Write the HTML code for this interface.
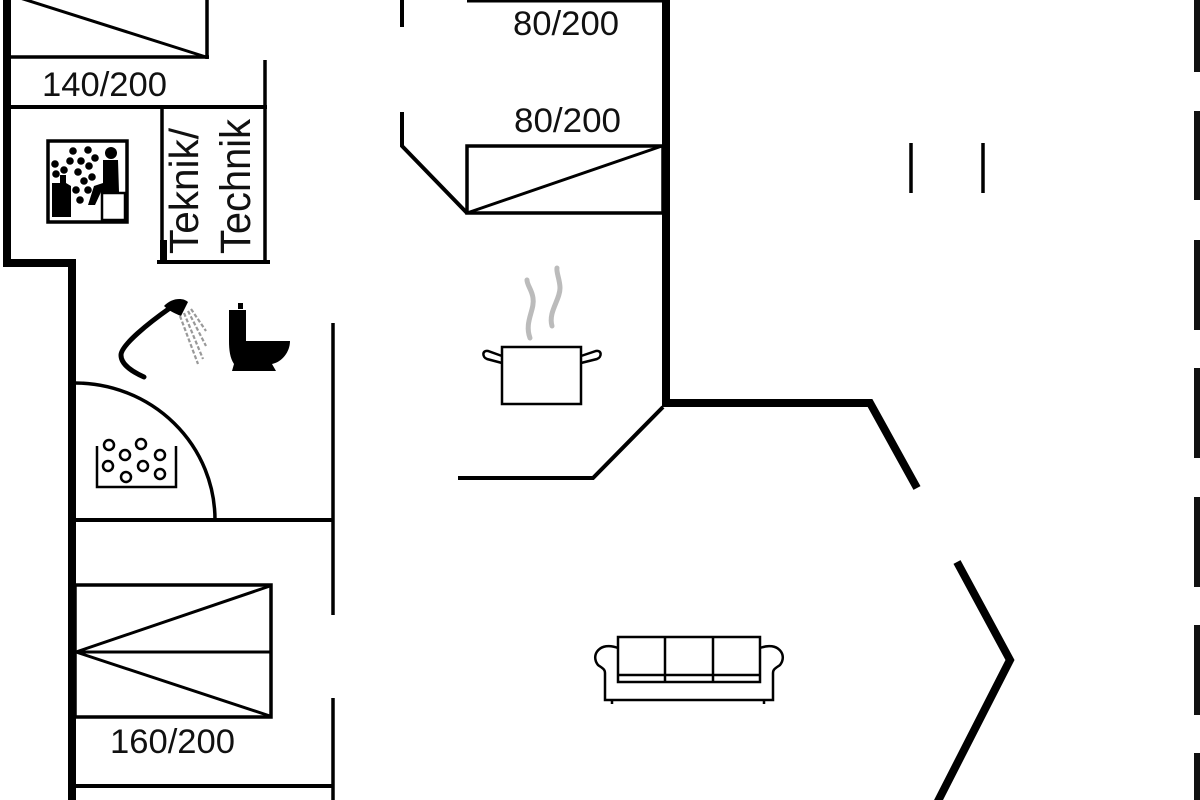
<!DOCTYPE html>
<html><head><meta charset="utf-8"><style>
html,body{margin:0;padding:0;background:#fff;}
svg{display:block;}
text{font-family:"Liberation Sans",Arial,sans-serif;fill:#111;}
</style></head><body>
<svg width="1200" height="800" viewBox="0 0 1200 800" xmlns="http://www.w3.org/2000/svg">
<rect width="1200" height="800" fill="#fff"/>
<g stroke="#000" fill="none" stroke-linecap="butt">
  <polyline points="7,0 7,263 72,263 72,800" stroke-width="8" stroke-linejoin="miter"/>
  <line x1="10" y1="57" x2="209" y2="57" stroke-width="3.5"/>
  <line x1="207" y1="0" x2="207" y2="59" stroke-width="3.5"/>
  <line x1="20" y1="-2" x2="206" y2="57" stroke-width="3"/>
  <line x1="10" y1="107" x2="267" y2="107" stroke-width="4"/>
  <line x1="265" y1="60" x2="265" y2="264" stroke-width="3.5"/>
  <line x1="162" y1="107" x2="162" y2="264" stroke-width="3.5"/>
  <line x1="157" y1="262" x2="270" y2="262" stroke-width="4"/>
  <line x1="467" y1="1" x2="665" y2="1" stroke-width="3"/>
  <line x1="402" y1="0" x2="402" y2="27" stroke-width="4"/>
  <polyline points="402,112 402,146 467,213" stroke-width="4"/>
  <rect x="467" y="146" width="196" height="67" stroke-width="3.5"/>
  <line x1="467" y1="213" x2="662" y2="146" stroke-width="3"/>
  <polyline points="666,0 666,403 870,403 917,488" stroke-width="8" stroke-linejoin="miter"/>
  <polyline points="663,407 593,478 458,478" stroke-width="4"/>
  <polyline points="957,562 1010,660 937,803" stroke-width="8" stroke-linejoin="miter"/>
  <line x1="911" y1="143" x2="911" y2="193" stroke-width="3.5"/>
  <line x1="983" y1="143" x2="983" y2="193" stroke-width="3.5"/>
  <line x1="333" y1="323" x2="333" y2="615" stroke-width="3.5"/>
  <line x1="333" y1="698" x2="333" y2="800" stroke-width="3.5"/>
  <path d="M75,383 A140,137 0 0 1 215,520" stroke-width="3.5"/>
  <line x1="75" y1="520" x2="333" y2="520" stroke-width="4"/>
  <line x1="75" y1="786" x2="333" y2="786" stroke-width="4"/>
  <rect x="75" y="585" width="196" height="132" stroke-width="3.5"/>
  <line x1="75" y1="652" x2="271" y2="652" stroke-width="3"/>
  <line x1="76" y1="652" x2="270" y2="586" stroke-width="3"/>
  <line x1="76" y1="652" x2="270" y2="716" stroke-width="3"/>
</g>
<rect x="160" y="240" width="7" height="20" fill="#000"/>
<g fill="#111">
  <rect x="1194" y="0" width="7" height="72"/>
  <rect x="1194" y="111" width="7" height="89"/>
  <rect x="1194" y="240" width="7" height="90"/>
  <rect x="1194" y="368" width="7" height="90"/>
  <rect x="1194" y="497" width="7" height="90"/>
  <rect x="1194" y="625" width="7" height="90"/>
  <rect x="1194" y="753" width="7" height="50"/>
</g>
<g>
  <rect x="48" y="141" width="79" height="81" fill="none" stroke="#000" stroke-width="3.5"/>
  <rect x="102" y="193" width="23" height="27" fill="none" stroke="#000" stroke-width="2.5"/>
  <circle cx="111" cy="153" r="6" fill="#000"/>
  <path d="M103,160 L118,160 L119,192 L101,192 L95,205 L88,205 L94,186 L103,183 Z" fill="#000"/>
  <path d="M52,183 L60,183 L60,175 L66,175 L66,183 L71,186 L71,217 L52,217 Z" fill="#000"/>
  <g fill="#000">
    <circle cx="55" cy="164" r="3.8"/><circle cx="56" cy="174" r="3.8"/>
    <circle cx="64" cy="170" r="3.8"/><circle cx="70" cy="161" r="3.8"/>
    <circle cx="73" cy="151" r="3.8"/><circle cx="78" cy="172" r="3.8"/>
    <circle cx="81" cy="161" r="3.8"/><circle cx="88" cy="150" r="3.8"/>
    <circle cx="89" cy="166" r="3.8"/><circle cx="84" cy="181" r="3.8"/>
    <circle cx="92" cy="177" r="3.8"/><circle cx="76" cy="190" r="3.8"/>
    <circle cx="80" cy="200" r="3.8"/><circle cx="88" cy="190" r="3.8"/>
    <circle cx="95" cy="158" r="3.8"/>
  </g>
</g>
<text transform="translate(198,254) rotate(-90)" font-size="41" textLength="126" lengthAdjust="spacingAndGlyphs">Teknik/</text>
<text transform="translate(250,254) rotate(-90)" font-size="43" textLength="135" lengthAdjust="spacingAndGlyphs">Technik</text>
<text x="42" y="96" font-size="34" textLength="125" lengthAdjust="spacingAndGlyphs">140/200</text>
<text x="513" y="35" font-size="34" textLength="106" lengthAdjust="spacingAndGlyphs">80/200</text>
<text x="514" y="132" font-size="34" textLength="107" lengthAdjust="spacingAndGlyphs">80/200</text>
<text x="110" y="753" font-size="34" textLength="125" lengthAdjust="spacingAndGlyphs">160/200</text>
<g>
  <path d="M144,377 C133,372 121,365 121,355 C121,345 150,322 170,308" fill="none" stroke="#000" stroke-width="5" stroke-linecap="round"/>
  <path d="M164,306 C171,298 183,297 188,302 L181,316 C176,314 169,311 164,306 Z" fill="#000"/>
  <g stroke="#999" stroke-width="2.2" stroke-dasharray="4,2">
    <line x1="180" y1="316" x2="198" y2="364"/>
    <line x1="184" y1="313" x2="203" y2="359"/>
    <line x1="188" y1="311" x2="206" y2="346"/>
    <line x1="191" y1="309" x2="206" y2="331"/>
  </g>
</g>
<g fill="#000">
  <rect x="238" y="303" width="5" height="6"/>
  <path d="M229,310 L246,310 L246,341 L290,341 C290,352 282,362 272,364 L276,371 L232,371 L234,364 C230,358 229,350 229,341 Z"/>
</g>
<g fill="none" stroke="#000">
  <path d="M97,446 L97,487 L176,487 L176,446" stroke-width="2.5"/>
  <g stroke-width="2.5">
    <circle cx="109" cy="445" r="5"/><circle cx="141" cy="444" r="5"/>
    <circle cx="125" cy="455" r="5"/><circle cx="160" cy="455" r="5"/>
    <circle cx="108" cy="466" r="5"/><circle cx="143" cy="466" r="5"/>
    <circle cx="126" cy="477" r="5"/><circle cx="160" cy="474" r="5"/>
  </g>
</g>
<g fill="none" stroke="#000" stroke-width="2.5">
  <rect x="502" y="347" width="79" height="57"/>
  <path d="M502,356 L488,351 C482,350 482,357 487,359 L502,363"/>
  <path d="M581,356 L596,351 C602,350 602,357 597,359 L581,363"/>
</g>
<g fill="none" stroke="#bbb" stroke-width="5" stroke-linecap="round">
  <path d="M530,338 C524,322 535,310 533,298 C532,290 527,285 527,280"/>
  <path d="M552,326 C548,312 560,300 560,288 C560,280 556,272 557,268"/>
</g>
<g fill="none" stroke="#000" stroke-width="2.5">
  <rect x="618" y="637" width="142" height="45"/>
  <line x1="665" y1="637" x2="665" y2="682"/>
  <line x1="713" y1="637" x2="713" y2="682"/>
  <line x1="618" y1="675" x2="760" y2="675"/>
  <path d="M618,648 C600,641 590,655 598,665 C602,668 605,669 605,673 L605,700 L773,700 L773,673 C773,669 776,668 780,665 C788,655 778,641 760,648"/>
  <line x1="612" y1="700" x2="612" y2="704"/>
  <line x1="764" y1="700" x2="764" y2="704"/>
</g>
</svg>
</body></html>
